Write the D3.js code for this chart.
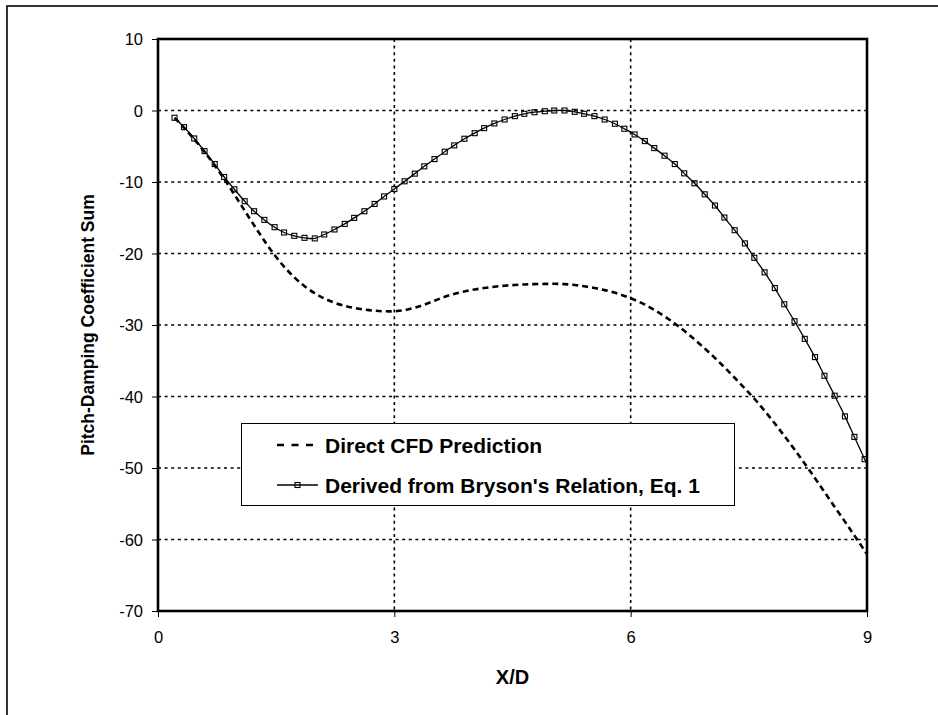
<!DOCTYPE html>
<html>
<head>
<meta charset="utf-8">
<script src="https://cdn.jsdelivr.net/npm/d3@7"></script>
<style>
  html, body { margin: 0; padding: 0; background: #fff; }
  svg { display: block; font-family: "Liberation Sans", Arial, sans-serif; }
</style>
</head>
<body>
<svg id="chart" width="938" height="715"></svg>
<script>
// Stations along the body (X/D)
const xOverD = [
  0.21, 0.33, 0.46, 0.59, 0.72, 0.84, 0.97, 1.10, 1.22, 1.35,
  1.48, 1.60, 1.73, 1.86, 1.99, 2.11, 2.24, 2.37, 2.49, 2.62,
  2.75, 2.87, 3.00, 3.13, 3.26, 3.38, 3.51, 3.64, 3.76, 3.89,
  4.02, 4.14, 4.27, 4.40, 4.53, 4.65, 4.78, 4.91, 5.03, 5.16,
  5.29, 5.41, 5.54, 5.67, 5.80, 5.92, 6.05, 6.18, 6.30, 6.43,
  6.56, 6.68, 6.81, 6.94, 7.07, 7.19, 7.32, 7.45, 7.57, 7.70,
  7.83, 7.95, 8.08, 8.21, 8.34, 8.46, 8.59, 8.72, 8.84, 8.97,
  9.10
];

// Direct CFD prediction of the pitch-damping coefficient sum
const cfdSum = [
  -1.02, -2.40, -4.03, -5.79, -7.68, -9.58, -11.76, -14.00, -16.06, -18.22,
  -20.21, -21.83, -23.33, -24.57, -25.56, -26.28, -26.88, -27.32, -27.62, -27.84,
  -28.00, -28.08, -28.08, -27.92, -27.58, -27.15, -26.60, -26.05, -25.65, -25.30,
  -25.03, -24.83, -24.65, -24.50, -24.40, -24.33, -24.28, -24.25, -24.24, -24.28,
  -24.40, -24.58, -24.82, -25.12, -25.49, -25.94, -26.49, -27.14, -27.90, -28.78,
  -29.78, -30.81, -32.01, -33.28, -34.61, -35.91, -37.38, -38.88, -40.31, -42.00,
  -43.78, -45.50, -47.42, -49.40, -51.43, -53.35, -55.45, -57.50, -59.45, -61.55,
  -63.70
];

// Sum derived from Bryson's relation, Eq. 1
const brysonSum = [
  -1.02, -2.33, -3.91, -5.68, -7.49, -9.30, -11.02, -12.69, -14.09, -15.30,
  -16.32, -17.06, -17.53, -17.81, -17.89, -17.34, -16.64, -15.86, -15.02, -14.09,
  -13.07, -12.02, -10.98, -9.90, -8.83, -7.81, -6.79, -5.76, -4.88, -3.95,
  -3.17, -2.47, -1.81, -1.26, -0.79, -0.46, -0.24, -0.10, 0.00, 0.00,
  -0.18, -0.46, -0.79, -1.26, -1.85, -2.55, -3.35, -4.28, -5.26, -6.32,
  -7.49, -8.79, -10.18, -11.72, -13.29, -14.97, -16.74, -18.59, -20.60, -22.64,
  -24.83, -27.10, -29.47, -31.94, -34.49, -37.10, -39.89, -42.78, -45.65, -48.77,
  -51.70
];

const xTicks = [0, 3, 6, 9];
const yTicks = [10, 0, -10, -20, -30, -40, -50, -60, -70];
const xGridValues = [3, 6];
const yGridValues = [0, -10, -20, -30, -40, -50, -60];

const seriesNames = ["Direct CFD Prediction", "Derived from Bryson's Relation, Eq. 1"];

const svg = d3.select("#chart");
const plot = { left: 158, right: 867, top: 39, bottom: 611 };

const x = d3.scaleLinear().domain([0, 9]).range([plot.left, plot.right]);
const y = d3.scaleLinear().domain([-70, 10]).range([plot.bottom, plot.top]);

// Outer chart frame (runs past the page edges on the right and bottom)
svg.append("rect")
  .attr("x", 7).attr("y", 6)
  .attr("width", 960).attr("height", 740)
  .attr("fill", "none").attr("stroke", "#000").attr("stroke-width", 1.6);

svg.append("defs").append("clipPath").attr("id", "plotClip")
  .append("rect")
  .attr("x", plot.left).attr("y", plot.top)
  .attr("width", plot.right - plot.left).attr("height", plot.bottom - plot.top);

// Gridlines
const grid = svg.append("g").attr("stroke", "#000").attr("stroke-width", 1.6)
  .attr("stroke-dasharray", "3,3.6");
grid.selectAll("line.h").data(yGridValues).join("line")
  .attr("class", "h")
  .attr("x1", plot.left).attr("x2", plot.right)
  .attr("y1", d => y(d)).attr("y2", d => y(d));
grid.selectAll("line.v").data(xGridValues).join("line")
  .attr("class", "v")
  .attr("y1", plot.top).attr("y2", plot.bottom)
  .attr("x1", d => x(d)).attr("x2", d => x(d));

// Axes
const plainNumber = d => String(d);
const yAxis = d3.axisLeft(y).tickValues(yTicks).tickSize(6).tickPadding(9).tickFormat(plainNumber);
const xAxis = d3.axisBottom(x).tickValues(xTicks).tickSize(6).tickPadding(14).tickFormat(plainNumber);

const gy = svg.append("g").attr("transform", `translate(${plot.left},0)`).call(yAxis);
const gx = svg.append("g").attr("transform", `translate(0,${plot.bottom})`).call(xAxis);
[gx, gy].forEach(g => {
  g.select(".domain").remove();
  g.selectAll(".tick line").attr("stroke", "#000").attr("stroke-width", 1);
  g.selectAll(".tick text")
    .attr("fill", "#000")
    .style("font-family", "'Liberation Sans', Arial, sans-serif")
    .style("font-size", "16.5px");
});
gy.selectAll(".tick text").attr("dy", "0.36em");

// Series
const pts = xOverD.map((d, i) => ({ x: d, cfd: cfdSum[i], bry: brysonSum[i] }));
const series = svg.append("g").attr("clip-path", "url(#plotClip)");

series.append("path")
  .datum(pts)
  .attr("fill", "none").attr("stroke", "#000")
  .attr("stroke-width", 2.6).attr("stroke-dasharray", "6,4")
  .attr("d", d3.line().x(d => x(d.x)).y(d => y(d.cfd)).curve(d3.curveCatmullRom));

series.append("path")
  .datum(pts)
  .attr("fill", "none").attr("stroke", "#000")
  .attr("stroke-width", 1.3)
  .attr("d", d3.line().x(d => x(d.x)).y(d => y(d.bry)).curve(d3.curveCatmullRom));

const ms = 5;
series.selectAll("rect.mk").data(pts.filter(d => d.x <= 9)).join("rect")
  .attr("class", "mk")
  .attr("x", d => x(d.x) - ms / 2).attr("y", d => y(d.bry) - ms / 2)
  .attr("width", ms).attr("height", ms)
  .attr("fill", "none").attr("stroke", "#000").attr("stroke-width", 1.1);

// Plot area border
svg.append("rect")
  .attr("x", plot.left).attr("y", plot.top)
  .attr("width", plot.right - plot.left).attr("height", plot.bottom - plot.top)
  .attr("fill", "none").attr("stroke", "#000").attr("stroke-width", 2.6);

// Axis titles
svg.append("text")
  .attr("x", (plot.left + plot.right) / 2).attr("y", 684)
  .attr("text-anchor", "middle")
  .style("font-size", "20px").style("font-weight", "bold")
  .text("X/D");

svg.append("text")
  .attr("transform", `translate(93.5,${(plot.top + plot.bottom) / 2}) rotate(-90)`)
  .attr("text-anchor", "middle")
  .style("font-size", "17.5px").style("font-weight", "bold")
  .text("Pitch-Damping Coefficient Sum");

// Legend
const legend = svg.append("g");
legend.append("rect")
  .attr("x", 241.5).attr("y", 423.5).attr("width", 493).attr("height", 82)
  .attr("fill", "#fff").attr("stroke", "#000").attr("stroke-width", 1);

legend.append("line")
  .attr("x1", 277).attr("x2", 317).attr("y1", 445).attr("y2", 445)
  .attr("stroke", "#000").attr("stroke-width", 2.6).attr("stroke-dasharray", "7,7.5");

legend.append("line")
  .attr("x1", 277).attr("x2", 318).attr("y1", 485).attr("y2", 485)
  .attr("stroke", "#000").attr("stroke-width", 1.3);
legend.append("rect")
  .attr("x", 297.5 - ms / 2).attr("y", 485 - ms / 2).attr("width", ms).attr("height", ms)
  .attr("fill", "none").attr("stroke", "#000").attr("stroke-width", 1.1);

legend.selectAll("text").data(seriesNames).join("text")
  .attr("x", 325).attr("y", (d, i) => 445 + i * 40)
  .attr("dy", "0.36em")
  .style("font-size", "21px").style("font-weight", "bold")
  .text(d => d);
</script>
</body>
</html>
